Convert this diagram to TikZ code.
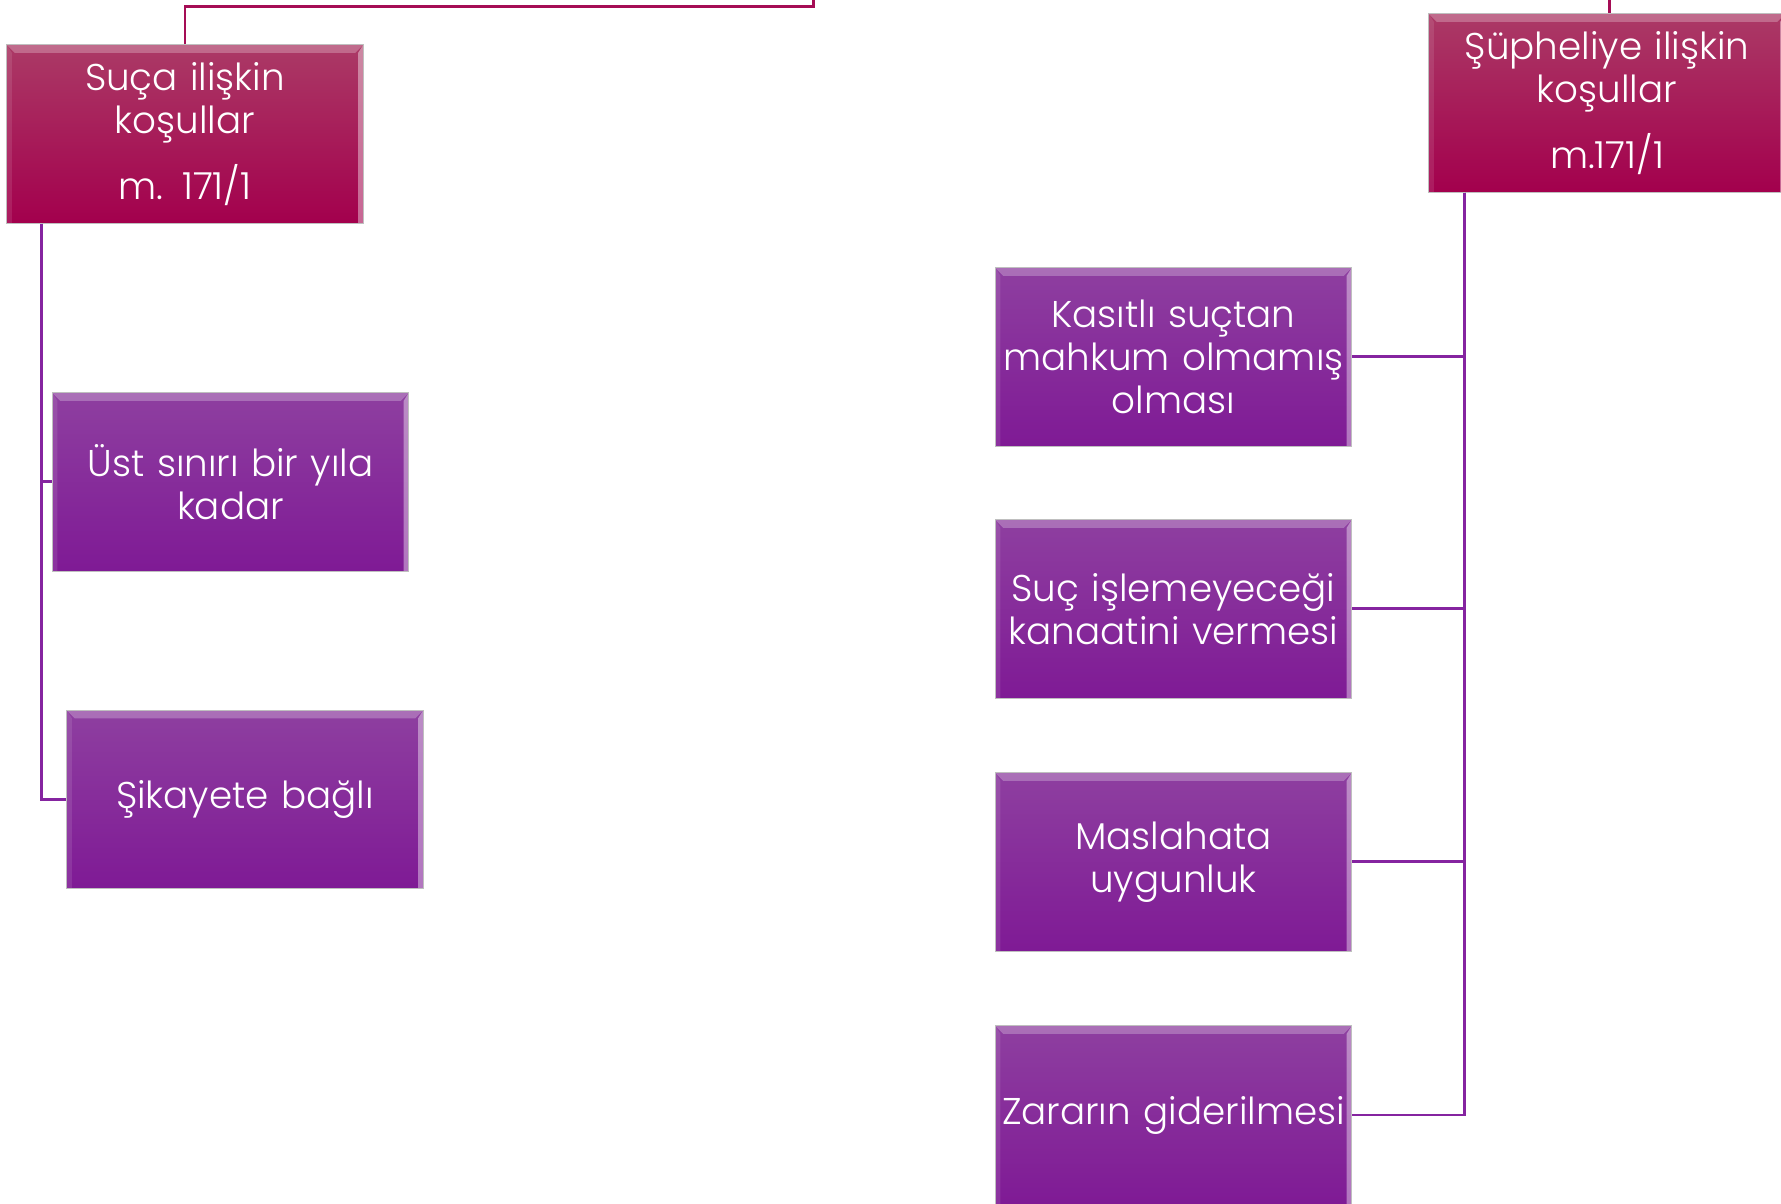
\documentclass[tikz,border=0pt]{standalone}
\usepackage{fontspec}
\IfFontExistsTF{Poppins Light}{\setmainfont{Poppins Light}}{\setmainfont{Poppins}}
\usepackage{tikz}
\usetikzlibrary{positioning, calc}
\definecolor{xrose}{HTML}{AB3A66}
\definecolor{xcrimson}{HTML}{A3004D}
\definecolor{xlilac}{HTML}{8E3FA0}
\definecolor{xviolet}{HTML}{7F1A95}
\definecolor{xredline}{HTML}{A50D55}
\definecolor{xpurpleline}{HTML}{8524A0}
\newcommand{\boxfont}{\fontsize{10.6}{12.2}\selectfont}
\tikzset{
	box/.style={rectangle, minimum width=3.56cm, minimum height=1.78cm, text width=3.56cm, inner sep=0pt, align=center, text=white, font=\boxfont, draw=black!25, line width=0.3pt,
		path picture={
			\fill[white, opacity=0.25] (path picture bounding box.north west) -- (path picture bounding box.north east) -- ([xshift=-0.8mm, yshift=-0.8mm]path picture bounding box.north east) -- ([xshift=0.8mm, yshift=-0.8mm]path picture bounding box.north west) -- cycle;
			\fill[white, opacity=0.4] (path picture bounding box.north east) -- (path picture bounding box.south east) -- ([xshift=-0.5mm]path picture bounding box.south east) -- ([xshift=-0.5mm, yshift=-0.8mm]path picture bounding box.north east) -- cycle;
			\fill[white, opacity=0.1] (path picture bounding box.north west) -- (path picture bounding box.south west) -- ([xshift=0.5mm]path picture bounding box.south west) -- ([xshift=0.5mm, yshift=-0.8mm]path picture bounding box.north west) -- cycle;
		}},
	redbox/.style={box, top color=xrose, bottom color=xcrimson},
	purplebox/.style={box, top color=xlilac, bottom color=xviolet},
	rlink/.style={draw=xredline, line width=0.85pt},
	plink/.style={draw=xpurpleline, line width=0.85pt},
}

\begin{document}
\begin{tikzpicture}[x=0.01cm, y=-0.01cm]
	\useasboundingbox (0,0) rectangle (1781,1204);
	\clip (0,0) rectangle (1781,1204);

	% Suça ilişkin koşullar
	\node[redbox] (suca) at (185,134) {Suça ilişkin\\koşullar\\[5pt]m. 171/1};
	\node[purplebox] (ust) at (230.5,482) {Üst sınırı bir yıla\\kadar};
	\node[purplebox] (sikayet) at (245,799.5) {Şikayete bağlı};

	\coordinate (rootL) at (813,0);
	\draw[rlink] (suca.north) -- ++(0,-38) -| (rootL);
	\draw[plink] ([xshift=0.35cm]suca.south west) |- (ust.west);
	\draw[plink] ([xshift=0.35cm]suca.south west) |- (sikayet.west);

	% Şüpheliye ilişkin koşullar
	\node[redbox] (supheli) at (1607,103) {Şüpheliye ilişkin\\koşullar\\[5pt]m.171/1};
	\node[purplebox] (kasit) at (1173.5,357) {Kasıtlı suçtan\\mahkum olmamış\\olması};
	\node[purplebox] (kanaat) at (1173.5,609) {Suç işlemeyeceği\\kanaatini vermesi};
	\node[purplebox] (maslahat) at (1173.5,862) {Maslahata\\uygunluk};
	\node[purplebox] (zarar) at (1173.5,1115) {Zararın giderilmesi};

	\coordinate (rootR) at (1609,0);
	\draw[rlink] (rootR) -- (supheli.north -| rootR);
	\draw[plink] ([xshift=0.36cm]supheli.south west) |- (kasit.east);
	\draw[plink] ([xshift=0.36cm]supheli.south west) |- (kanaat.east);
	\draw[plink] ([xshift=0.36cm]supheli.south west) |- (maslahat.east);
	\draw[plink] ([xshift=0.36cm]supheli.south west) |- (zarar.east);
\end{tikzpicture}
\end{document}
